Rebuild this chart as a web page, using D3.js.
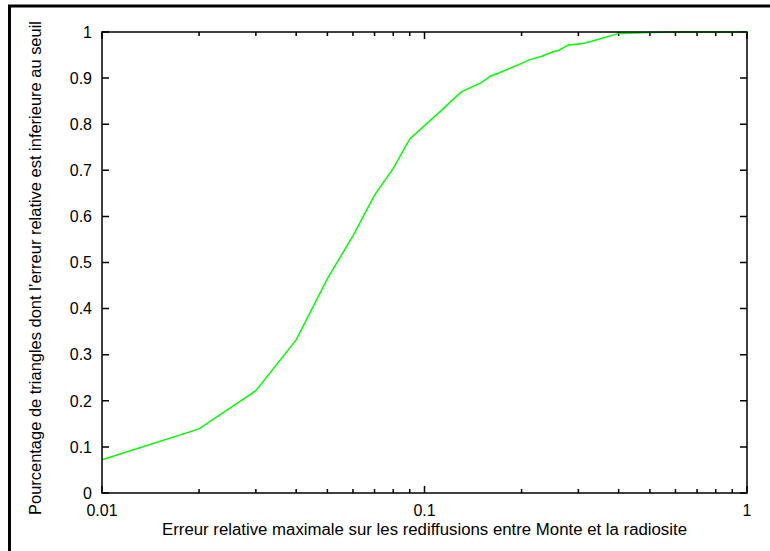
<!DOCTYPE html>
<html><head><meta charset="utf-8">
<script src="https://cdn.jsdelivr.net/npm/d3@7"></script>
<style>body{margin:0;background:#fff}svg{display:block}text{font-family:"Liberation Sans",Arial,Helvetica,sans-serif;fill:#000}</style>
</head><body>
<script>
const xValues = [0.01,0.02,0.03,0.04,0.05,0.06,0.07,0.08,0.09,0.11,0.13,0.15,0.16,0.17,0.2,0.21,0.23,0.25,0.26,0.28,0.31,0.33,0.4,0.5,0.6,1];
const yValues = [0.072,0.139,0.222,0.332,0.465,0.558,0.646,0.704,0.768,0.823,0.870,0.890,0.904,0.911,0.932,0.939,0.947,0.957,0.960,0.972,0.975,0.980,0.997,0.999,1.0,1.0];
const xTicks = [0.01,0.1,1];
const xTickLabels = ["0.01","0.1","1"];
const yTicks = [0,0.1,0.2,0.3,0.4,0.5,0.6,0.7,0.8,0.9,1];
const xTitle = "Erreur relative maximale sur les rediffusions entre Monte et la radiosite";
const yTitle = "Pourcentage de triangles dont l’erreur relative est inferieure au seuil";

const W=770,H=551;
const L=102,R=747,T=32,B=493;
const svg=d3.select("body").append("svg").attr("width",W).attr("height",H);
svg.append("rect").attr("width",W).attr("height",H).attr("fill","#fff");
// outer frame
svg.append("line").attr("x1",8).attr("x2",W).attr("y1",6).attr("y2",6).attr("stroke","#000").attr("stroke-width",3);
svg.append("line").attr("x1",9.5).attr("x2",9.5).attr("y1",5).attr("y2",H).attr("stroke","#000").attr("stroke-width",3);

const x=d3.scaleLog().domain([0.01,1]).range([L,R]);
const y=d3.scaleLinear().domain([0,1]).range([B,T]);
const minor=[];
for(const d of [0.01,0.1]) for(let k=2;k<=9;k++) minor.push(d*k);

const g=svg.append("g");
g.selectAll(".yt").data(yTicks).enter().append("path")
 .attr("d",d=>`M${L},${y(d)}h7M${R},${y(d)}h-7`).attr("stroke","#000").attr("stroke-width",1.5);
g.selectAll(".xt").data(xTicks).enter().append("path")
 .attr("d",d=>`M${x(d)},${B}v-7M${x(d)},${T}v7`).attr("stroke","#000").attr("stroke-width",1.5);
g.selectAll(".xm").data(minor).enter().append("path")
 .attr("d",d=>`M${x(d)},${B}v-4M${x(d)},${T}v4`).attr("stroke","#000").attr("stroke-width",1.5);

g.selectAll(".yl").data(yTicks).enter().append("text")
 .attr("x",92).attr("y",d=>y(d)).attr("dy","0.36em").attr("text-anchor","end")
 .attr("font-size",16).text(d=>d3.format("~g")(d));
g.selectAll(".xl").data(xTicks).enter().append("text")
 .attr("x",d=>x(d)).attr("y",510).attr("dy","0.36em").attr("text-anchor","middle")
 .attr("font-size",16).text((d,i)=>xTickLabels[i]);
svg.append("text").attr("x",424.5).attr("y",529).attr("dy","0.36em").attr("text-anchor","middle")
 .attr("font-size",16).attr("textLength",525).attr("lengthAdjust","spacingAndGlyphs").text(xTitle);
svg.append("text").attr("transform",`translate(35,268) rotate(-90)`).attr("dy","0.36em")
 .attr("text-anchor","middle").attr("font-size",16).attr("textLength",494).attr("lengthAdjust","spacingAndGlyphs").text(yTitle);

const data=xValues.map((v,i)=>[v,yValues[i]]);
svg.append("path").datum(data).attr("fill","none").attr("stroke","#00ff00").attr("stroke-width",1.5)
 .attr("d",d3.line().x(d=>x(d[0])).y(d=>y(d[1])));

svg.append("rect").attr("x",L).attr("y",T).attr("width",R-L).attr("height",B-T)
 .attr("fill","none").attr("stroke","#000").attr("stroke-width",1.5);
</script>
</body></html>
